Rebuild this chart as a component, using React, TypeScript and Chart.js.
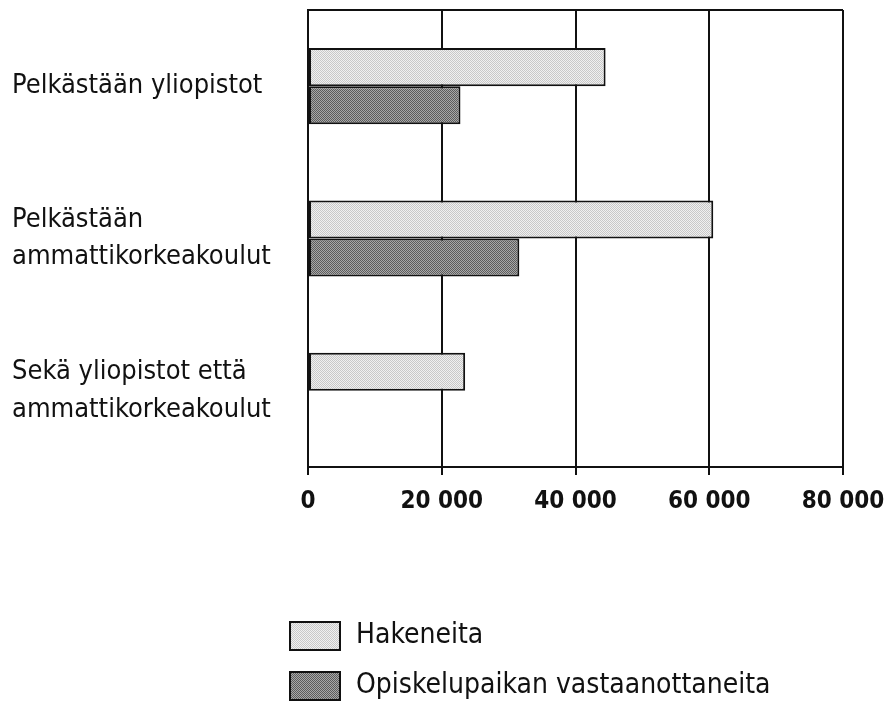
import React, { useEffect, useRef } from "react";
import { Chart, registerables } from "chart.js";

Chart.register(...registerables);

const categories: string[][] = [
  ["Pelkästään yliopistot"],
  ["Pelkästään", "ammattikorkeakoulut"],
  ["Sekä yliopistot että", "ammattikorkeakoulut"],
];
const seriesNames = ["Hakeneita", "Opiskelupaikan vastaanottaneita"];
const hakeneita: (number | null)[] = [44500, 60600, 23500];
const vastaanottaneita: (number | null)[] = [22800, 31600, null];
const xTicks = [0, 20000, 40000, 60000, 80000];
const xTickLabels = ["0", "20 000", "40 000", "60 000", "80 000"];

const FONT = "'DejaVu Sans Condensed', 'DejaVu Sans', sans-serif";

function makePattern(a: string, b: string): CanvasPattern | string {
  const c = document.createElement("canvas");
  c.width = 2;
  c.height = 2;
  const ctx = c.getContext("2d");
  if (!ctx) return a;
  ctx.fillStyle = a;
  ctx.fillRect(0, 0, 2, 2);
  ctx.fillStyle = b;
  ctx.fillRect(0, 0, 1, 1);
  ctx.fillRect(1, 1, 1, 1);
  const p = ctx.createPattern(c, "repeat");
  return p || a;
}

export default function App() {
  const ref = useRef<HTMLCanvasElement | null>(null);

  useEffect(() => {
    document.body.style.margin = "0";
    const canvas = ref.current;
    if (!canvas) return;
    const light = makePattern("#f0f0f0", "#c8c8c8");
    const dark = makePattern("#a8a8a8", "#5c5c5c");

    const legendPlugin = {
      id: "customLegend",
      afterDraw(chart: any) {
        const ctx = chart.ctx;
        const ys = [636, 686];
        ctx.save();
        chart.data.datasets.forEach((ds: any, i: number) => {
          const y = ys[i];
          ctx.fillStyle = ds.backgroundColor;
          ctx.fillRect(290, y - 14, 50, 28);
          ctx.lineWidth = 2;
          ctx.strokeStyle = "#111";
          ctx.strokeRect(290, y - 14, 50, 28);
          ctx.fillStyle = "#111";
          ctx.font = `28px ${FONT}`;
          ctx.textBaseline = "middle";
          ctx.textAlign = "left";
          ctx.fillText(ds.label, 356, y);
        });
        ctx.restore();
      },
    };

    const chart = new Chart(canvas, {
      type: "bar",
      data: {
        labels: categories,
        datasets: [
          {
            label: seriesNames[0],
            data: hakeneita,
            backgroundColor: light as any,
            borderColor: "#111",
            borderWidth: 2,
            borderSkipped: false,
          },
          {
            label: seriesNames[1],
            data: vastaanottaneita,
            backgroundColor: dark as any,
            borderColor: "#111",
            borderWidth: 2,
            borderSkipped: false,
          },
        ],
      },
      options: {
        indexAxis: "y",
        animation: false,
        responsive: false,
        maintainAspectRatio: false,
        layout: { padding: { left: 12, top: 10, right: 43, bottom: 176 } },
        datasets: { bar: { barPercentage: 1, categoryPercentage: 0.5 } },
        plugins: { legend: { display: false }, tooltip: { enabled: false } },
        scales: {
          x: {
            min: 0,
            max: 80000,
            afterBuildTicks(scale: any) {
              scale.ticks = xTicks.map((v) => ({ value: v }));
            },
            afterFit(scale: any) {
              scale.height = 60;
              scale.paddingLeft = 0;
              scale.paddingRight = 0;
            },
            grid: {
              color: "#111",
              lineWidth: 2,
              tickLength: 8,
              drawTicks: true,
            },
            border: { display: true, color: "#111", width: 2 },
            ticks: {
              color: "#111",
              padding: 12,
              font: { family: FONT, size: 24, weight: "bold" },
              callback: (v: any) => {
                const i = xTicks.indexOf(Number(v));
                return i >= 0 ? xTickLabels[i] : "";
              },
            },
          },
          y: {
            afterFit(scale: any) {
              scale.width = 296;
              scale.paddingTop = 0;
              scale.paddingBottom = 0;
            },
            grid: {
              color: (ctx: any) => (ctx.index === 0 ? "#111" : "rgba(0,0,0,0)"),
              lineWidth: 2,
              drawTicks: false,
            },
            border: { display: true, color: "#111", width: 2 },
            ticks: {
              color: "#111",
              crossAlign: "far",
              padding: 0,
              font: { family: FONT, size: 27, lineHeight: 1.4 },
            },
          },
        },
      },
      plugins: [legendPlugin],
    } as any);

    return () => chart.destroy();
  }, []);

  return (
    <div style={{ position: "fixed", left: 0, top: 0, width: 886, height: 703, background: "#fff" }}>
      <canvas ref={ref} width={886} height={703} style={{ width: 886, height: 703, display: "block" }} />
    </div>
  );
}
